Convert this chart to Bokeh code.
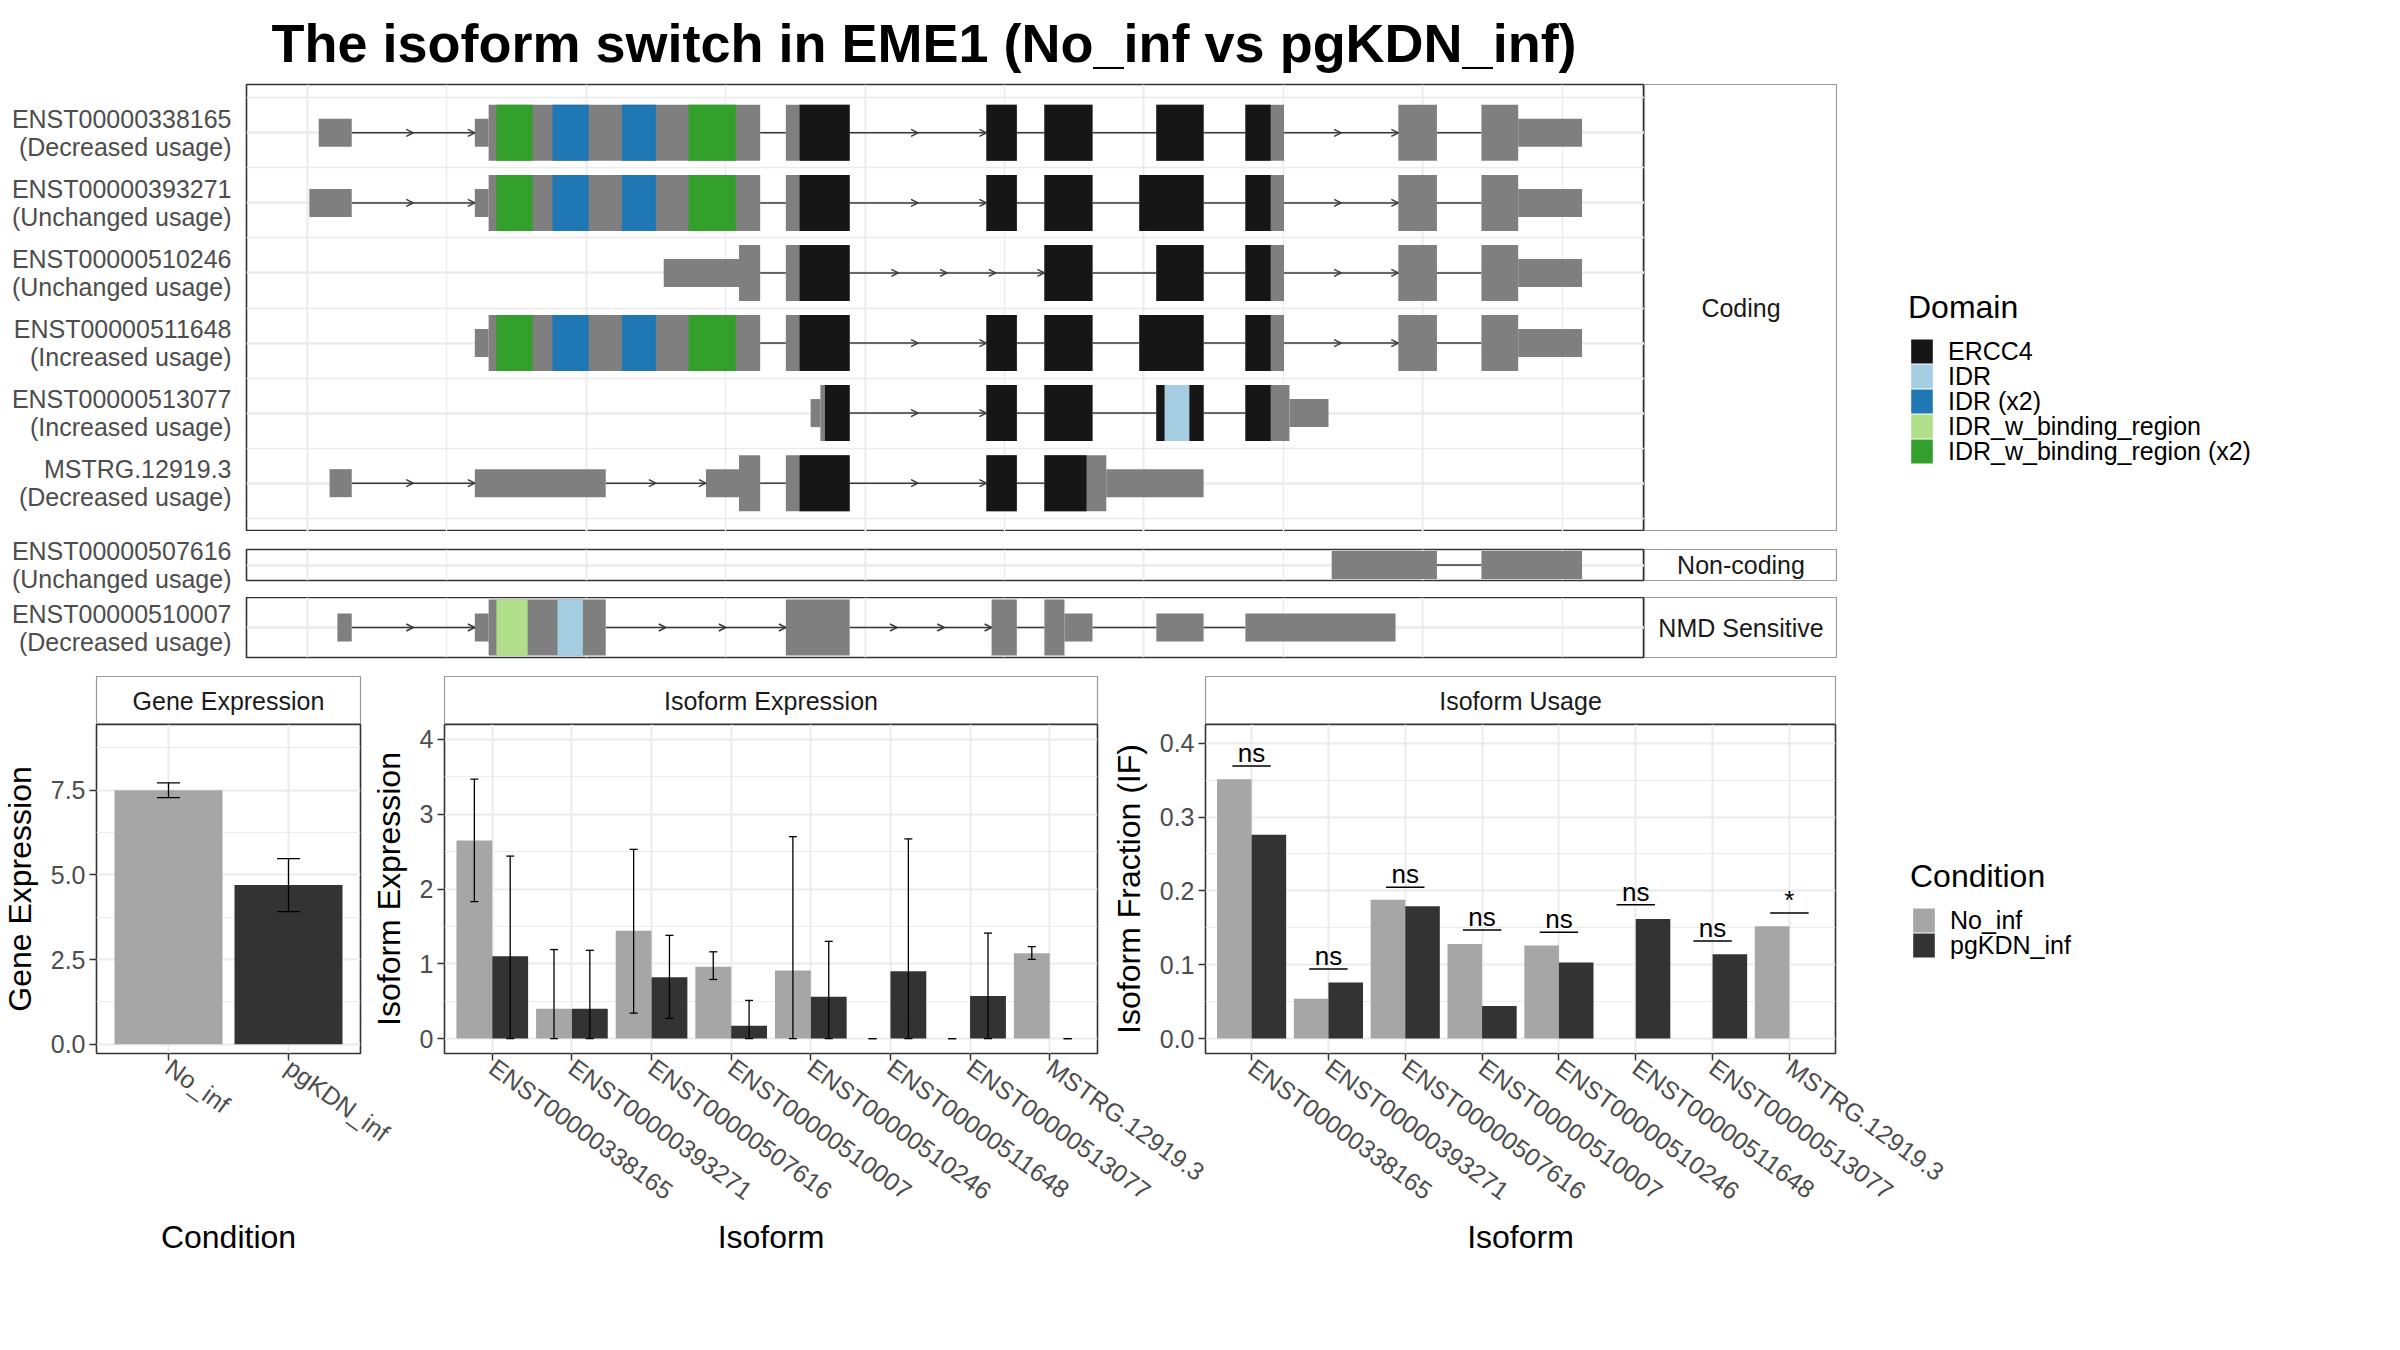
import math
from bokeh.plotting import figure
from bokeh.models import (Range1d, FixedTicker, ColumnDataSource, Arrow, OpenHead,
                          Legend, LegendItem, Spacer, PrintfTickFormatter, Whisker, TeeHead)
from bokeh.layouts import row, column
from bokeh.transform import dodge
from bokeh.embed import file_html
from bokeh.resources import INLINE
from bokeh.core.properties import value

FONT = "Liberation Sans"
GRID = "#EBEBEB"
BORDER = "#333333"
STRIP_BORDER = "#999999"
EXON_GRAY = "#7F7F7F"
INTRON = "#3A3A3A"
TICK_TXT = "#4D4D4D"

# ---------------------------------------------------------------- data
title_text = "The isoform switch in EME1 (No_inf vs pgKDN_inf)"

tx_ids = ["ENST00000338165", "ENST00000393271", "ENST00000510246", "ENST00000511648",
          "ENST00000513077", "MSTRG.12919.3", "ENST00000507616", "ENST00000510007"]
tx_usage = ["Decreased usage", "Unchanged usage", "Unchanged usage", "Increased usage",
            "Increased usage", "Decreased usage", "Unchanged usage", "Decreased usage"]
tx_class = ["Coding", "Coding", "Coding", "Coding", "Coding", "Coding",
            "Non-coding", "NMD Sensitive"]

# exon pieces (rescaled genomic coordinate); cds = 1 for coding part, 0 for UTR / non-coding
exon_tx = ([0] * 11 + [1] * 11 + [2] * 9 + [3] * 10 + [4] * 7 + [5] * 8 + [6] * 2 + [7] * 9)
exon_start = [8.0, 120.0, 129.9, 343.1, 487.0, 528.6, 608.9, 672.8, 782.5, 842.1, 868.5,
              1.3, 120.0, 129.9, 343.1, 487.0, 528.6, 596.7, 672.8, 782.5, 842.1, 868.5,
              255.5, 309.5, 343.1, 528.6, 608.9, 672.8, 782.5, 842.1, 868.5,
              120.0, 129.9, 343.1, 487.0, 528.6, 596.7, 672.8, 782.5, 842.1, 868.5,
              360.9, 367.9, 487.0, 528.6, 608.9, 672.8, 704.4,
              15.8, 120.0, 285.8, 309.5, 343.1, 487.0, 528.6, 573.0,
              734.7, 842.1,
              21.4, 120.0, 129.9, 343.1, 490.7, 528.6, 543.0, 608.9, 672.8]
exon_end = [31.7, 129.9, 324.7, 388.9, 508.8, 563.1, 642.8, 700.5, 810.2, 868.5, 914.3,
            31.7, 129.9, 324.7, 388.9, 508.8, 563.1, 642.8, 700.5, 810.2, 868.5, 914.3,
            309.5, 324.7, 388.9, 563.1, 642.8, 700.5, 810.2, 868.5, 914.3,
            129.9, 324.7, 388.9, 508.8, 563.1, 642.8, 700.5, 810.2, 868.5, 914.3,
            367.9, 388.9, 508.8, 563.1, 642.8, 704.4, 732.4,
            31.7, 213.9, 309.5, 324.7, 388.9, 508.8, 573.0, 642.8,
            810.2, 914.3,
            31.7, 129.9, 213.9, 388.9, 508.8, 543.0, 563.1, 642.8, 780.5]
exon_cds = [0, 0, 1, 1, 1, 1, 1, 1, 1, 1, 0,
            0, 0, 1, 1, 1, 1, 1, 1, 1, 1, 0,
            0, 1, 1, 1, 1, 1, 1, 1, 0,
            0, 1, 1, 1, 1, 1, 1, 1, 1, 0,
            0, 1, 1, 1, 1, 1, 0,
            0, 0, 0, 1, 1, 1, 1, 0,
            0, 0,
            0, 0, 1, 1, 1, 1, 0, 0, 0]

domain_names = ["ERCC4", "IDR", "IDR (x2)", "IDR_w_binding_region", "IDR_w_binding_region (x2)"]
domain_colors = ["#161616", "#A6CEE3", "#1F78B4", "#B2DF8A", "#33A02C"]

W2 = "IDR_w_binding_region (x2)"
I2 = "IDR (x2)"
dom_tx = [0, 0, 0, 0, 0, 1, 1, 1, 1, 1, 2, 3, 3, 3, 3, 3, 4, 4, 5, 7, 7]
dom_name = [W2, I2, I2, W2, "ERCC4", W2, I2, I2, W2, "ERCC4", "ERCC4",
            W2, I2, I2, W2, "ERCC4", "ERCC4", "IDR", "ERCC4",
            "IDR_w_binding_region", "IDR"]
dom_start = [135.5, 175.7, 225.5, 273.3, 353.0, 135.5, 175.7, 225.5, 273.3, 353.0, 353.0,
             135.5, 175.7, 225.5, 273.3, 353.0, 371.2, 614.8, 353.0, 135.5, 179.3]
dom_end = [161.5, 201.7, 249.9, 307.2, 690.9, 161.5, 201.7, 249.9, 307.2, 690.9, 690.9,
           161.5, 201.7, 249.9, 307.2, 690.9, 690.9, 632.6, 558.8, 157.9, 197.5]

conditions = ["No_inf", "pgKDN_inf"]
cond_colors = ["#A6A6A6", "#333333"]

gene_expr = [7.50, 4.70]
gene_lo = [7.28, 3.92]
gene_hi = [7.72, 5.48]

isoforms = ["ENST00000338165", "ENST00000393271", "ENST00000507616", "ENST00000510007",
            "ENST00000510246", "ENST00000511648", "ENST00000513077", "MSTRG.12919.3"]
iso_expr_no = [2.65, 0.40, 1.44, 0.96, 0.91, 0.00, 0.00, 1.14]
iso_expr_no_lo = [1.83, 0.00, 0.34, 0.79, 0.00, 0.00, 0.00, 1.06]
iso_expr_no_hi = [3.47, 1.19, 2.53, 1.16, 2.70, 0.00, 0.00, 1.23]
iso_expr_pg = [1.10, 0.40, 0.82, 0.17, 0.56, 0.90, 0.57, 0.00]
iso_expr_pg_lo = [0.00, 0.00, 0.27, 0.00, 0.00, 0.00, 0.00, 0.00]
iso_expr_pg_hi = [2.44, 1.18, 1.38, 0.51, 1.30, 2.67, 1.41, 0.00]

iso_if_no = [0.351, 0.054, 0.188, 0.128, 0.126, 0.000, 0.000, 0.152]
iso_if_pg = [0.276, 0.076, 0.179, 0.044, 0.103, 0.162, 0.114, 0.000]
sig_label = ["ns", "ns", "ns", "ns", "ns", "ns", "ns", "*"]
sig_y = [0.369, 0.094, 0.205, 0.147, 0.144, 0.181, 0.132, 0.170]

# ---------------------------------------------------------------- layout constants
TX_XR = (-43.8, 959.1)
TX_FRAME_W = 1398
TX_LEFT = 238
TOP_BORDER = 88
ROOT_TOP = -4          # page offset of the whole layout
KEY_W, KEY_H = 27, 30  # legend key boxes (drawn at 80 %)
KEY_PITCH = 25


def base_fig(**kw):
    opts = dict(output_backend="svg", toolbar_location=None, border_fill_color=None)
    opts.update(kw)
    return figure(**opts)


def transcript_panel(indices, y_bottom, y_top, frame_h, top_border, bottom_border=0, title=None):
    ypos = {t: k + 1 for k, t in enumerate(indices)}
    kw = {}
    if title:
        kw["title"] = title
    p = base_fig(frame_width=TX_FRAME_W, frame_height=frame_h,
                 x_range=Range1d(*TX_XR), y_range=Range1d(y_bottom, y_top),
                 x_axis_location=None, y_axis_location="left",
                 min_border_left=TX_LEFT, min_border_right=0,
                 min_border_top=top_border, min_border_bottom=bottom_border,
                 outline_line_color=BORDER, outline_line_width=1.6, **kw)
    p.xgrid.ticker = FixedTicker(ticks=[0, 200, 400, 600, 800], minor_ticks=[100, 300, 500, 700, 900])
    p.xgrid.grid_line_color = GRID
    p.xgrid.grid_line_width = 2
    p.xgrid.minor_grid_line_color = GRID
    p.xgrid.minor_grid_line_width = 1.3
    ys = [ypos[t] for t in indices]
    minor = [y - 0.5 for y in ys] + [ys[-1] + 0.5] if len(ys) > 1 else []
    p.ygrid.ticker = FixedTicker(ticks=ys, minor_ticks=minor)
    p.ygrid.grid_line_color = GRID
    p.ygrid.grid_line_width = 2.5
    p.ygrid.minor_grid_line_color = GRID
    p.ygrid.minor_grid_line_width = 1.5

    # introns (with direction chevrons on the longer ones)
    seg = {"x0": [], "x1": [], "y": []}
    arr = {"x0": [], "x1": [], "y": []}
    for t in indices:
        pieces = sorted((s, e) for tt, s, e in zip(exon_tx, exon_start, exon_end) if tt == t)
        for (s1, e1), (s2, e2) in zip(pieces, pieces[1:]):
            gap = s2 - e1
            if gap > 0.5:
                seg["x0"].append(e1); seg["x1"].append(s2); seg["y"].append(ypos[t])
                n = int(gap // 33)
                if n >= 2:
                    step = gap / n
                    for k in range(1, n + 1):
                        arr["x0"].append(e1 + (k - 1) * step)
                        arr["x1"].append(e1 + k * step)
                        arr["y"].append(ypos[t])
    p.segment(x0="x0", x1="x1", y0="y", y1="y", source=ColumnDataSource(seg),
              line_color=INTRON, line_width=1.5)
    if arr["x0"]:
        p.add_layout(Arrow(source=ColumnDataSource(arr), x_start="x0", x_end="x1",
                           y_start="y", y_end="y", line_color=None,
                           end=OpenHead(size=7, line_color=INTRON, line_width=1.4)))

    # exons
    ex = {"left": [], "right": [], "bottom": [], "top": []}
    for t, s, e, c in zip(exon_tx, exon_start, exon_end, exon_cds):
        if t in ypos:
            h = 0.4 if c else 0.2
            ex["left"].append(s); ex["right"].append(e)
            ex["bottom"].append(ypos[t] - h); ex["top"].append(ypos[t] + h)
    p.quad(left="left", right="right", bottom="bottom", top="top",
           source=ColumnDataSource(ex), fill_color=EXON_GRAY, line_color=None)

    # protein domains on coding parts
    for name, col in zip(domain_names, domain_colors):
        d = {"left": [], "right": [], "bottom": [], "top": []}
        for t, dn, ds, de in zip(dom_tx, dom_name, dom_start, dom_end):
            if dn != name or t not in ypos:
                continue
            for tt, s, e, c in zip(exon_tx, exon_start, exon_end, exon_cds):
                if tt == t and c == 1:
                    lft, rgt = max(s, ds), min(e, de)
                    if rgt > lft:
                        d["left"].append(lft); d["right"].append(rgt)
                        d["bottom"].append(ypos[t] - 0.4); d["top"].append(ypos[t] + 0.4)
        if d["left"]:
            p.quad(left="left", right="right", bottom="bottom", top="top",
                   source=ColumnDataSource(d), fill_color=col, line_color=None)

    ax = p.yaxis[0]
    ax.ticker = FixedTicker(ticks=ys)
    ax.major_label_overrides = {ypos[t]: f"{tx_ids[t]}\n({tx_usage[t]})" for t in indices}
    ax.axis_line_color = None
    ax.major_tick_line_color = None
    ax.minor_tick_line_color = None
    ax.major_label_standoff = 9
    ax.major_label_text_font = FONT
    ax.major_label_text_font_size = "25px"
    ax.major_label_text_color = TICK_TXT
    ax.major_label_text_line_height = 1.0
    return p


def strip_fig(label, frame_w, frame_h, lb=0, rb=0, top=0, bottom=0):
    p = base_fig(frame_width=frame_w, frame_height=frame_h,
                 x_range=Range1d(0, 1), y_range=Range1d(0, 1),
                 x_axis_type=None, y_axis_type=None,
                 min_border_left=lb, min_border_right=rb, min_border_top=top, min_border_bottom=bottom,
                 outline_line_color=STRIP_BORDER, outline_line_width=1.2)
    p.text(x=[0.5], y=[0.5], text=[label], text_align="center", text_baseline="middle",
           text_font=value(FONT), text_font_size="25px", text_color="#1A1A1A")
    return p


def legend_fig(title, names, colors, width, height, key_x, first_center):
    """One single-entry Legend per key so that the key pitch follows the reference."""
    p = base_fig(width=width, height=height, x_range=Range1d(0, 1), y_range=Range1d(0, 1),
                 x_axis_type=None, y_axis_type=None,
                 min_border_left=0, min_border_right=0, min_border_top=0, min_border_bottom=0,
                 outline_line_color=None, background_fill_color=None)
    for k, (n, c) in enumerate(zip(names, colors)):
        # zero-size key glyph: only its legend swatch is visible
        r = p.quad(left=[0], right=[0], top=[0], bottom=[0], fill_color=c, line_color=None)
        center = first_center + k * KEY_PITCH
        vy = height - (center + KEY_H / 2)
        leg = Legend(items=[LegendItem(label=n, renderers=[r])],
                     title=title if k == 0 else None, location=(key_x, vy),
                     title_text_font=FONT, title_text_font_size="32px",
                     title_text_font_style="normal", title_text_color="black", title_standoff=10,
                     label_text_font=FONT, label_text_font_size="25px", label_text_color="black",
                     label_standoff=13, glyph_width=KEY_W, glyph_height=KEY_H, label_height=20,
                     spacing=0, padding=0, margin=0, border_line_color=None,
                     background_fill_alpha=0)
        p.add_layout(leg, "center")
    return p


def bar_panel(cats, frame_w, lb, rb, yr, yticks, yminor, fmt, xlab, ylab, xl_std, yl_std):
    n = len(cats)
    p = base_fig(frame_width=frame_w, frame_height=329,
                 x_range=Range1d(0.4, n + 0.6), y_range=Range1d(*yr),
                 min_border_left=lb, min_border_right=rb, min_border_top=0, min_border_bottom=230,
                 outline_line_color=BORDER, outline_line_width=1.6,
                 x_axis_label=xlab, y_axis_label=ylab)
    xa = p.xaxis[0]
    ya = p.yaxis[0]
    xa.ticker = FixedTicker(ticks=list(range(1, n + 1)))
    xa.major_label_overrides = {i + 1: c for i, c in enumerate(cats)}
    xa.major_label_orientation = -math.radians(36)
    ya.ticker = FixedTicker(ticks=yticks, minor_ticks=yminor)
    ya.formatter = PrintfTickFormatter(format=fmt)
    for a in (xa, ya):
        a.axis_line_color = None
        a.major_tick_line_color = BORDER
        a.major_tick_line_width = 1.5
        a.major_tick_out = 7
        a.major_tick_in = 0
        a.minor_tick_line_color = None
        a.major_label_text_font = FONT
        a.major_label_text_font_size = "25px"
        a.major_label_text_color = TICK_TXT
        a.major_label_standoff = 4
        a.axis_label_text_font = FONT
        a.axis_label_text_font_size = "32px"
        a.axis_label_text_font_style = "normal"
        a.axis_label_text_color = "black"
    xa.axis_label_standoff = xl_std
    ya.axis_label_standoff = yl_std
    p.xgrid.grid_line_color = GRID
    p.xgrid.grid_line_width = 2
    p.ygrid.grid_line_color = GRID
    p.ygrid.grid_line_width = 2
    p.ygrid.minor_grid_line_color = GRID
    p.ygrid.minor_grid_line_width = 1.2
    return p


def add_whisker(p, src, base, lo, hi, size):
    p.add_layout(Whisker(source=src, base=base, lower=lo, upper=hi, dimension="height",
                         line_color="black", line_width=1.3, level="annotation",
                         upper_head=TeeHead(size=size, line_color="black", line_width=1.3),
                         lower_head=TeeHead(size=size, line_color="black", line_width=1.3)))


# ---------------------------------------------------------------- transcript panels
coding_idx = [i for i, c in enumerate(tx_class) if c == "Coding"]
nc_idx = [i for i, c in enumerate(tx_class) if c == "Non-coding"]
nmd_idx = [i for i, c in enumerate(tx_class) if c == "NMD Sensitive"]

coding = transcript_panel(coding_idx, 6.69, 0.31, 447, TOP_BORDER, title=title_text)
coding.title.align = "left"
coding.title.offset = 25
coding.title.text_font = FONT
coding.title.text_font_size = "54px"
coding.title.text_font_style = "bold"
coding.title.text_color = "black"
coding.title.standoff = 24

nc = transcript_panel(nc_idx, 1.22, 0.78, 31, 17, 17)
nmd = transcript_panel(nmd_idx, 1.43, 0.57, 60, 0, 19)

strip_coding = strip_fig("Coding", 193, 447, top=TOP_BORDER)
strip_nc = strip_fig("Non-coding", 193, 31, top=17, bottom=17)
strip_nmd = strip_fig("NMD Sensitive", 193, 60, top=0, bottom=19)

coding_h = TOP_BORDER + 447
domain_leg = legend_fig("Domain", domain_names, domain_colors, 540, coding_h, 71, 351 - ROOT_TOP)

# ---------------------------------------------------------------- bottom panels
# Gene expression
g = bar_panel(conditions, 264, 100, 40, (-0.27, 9.44), [0, 2.5, 5, 7.5], [1.25, 3.75, 6.25, 8.75],
              "%.1f", "Condition", "Gene Expression", 58, 10)
gsrc = ColumnDataSource(dict(x=[1, 2], y=gene_expr, lo=gene_lo, hi=gene_hi, color=cond_colors))
g.vbar(x="x", top="y", width=0.9, source=gsrc, fill_color="color", line_color=None)
add_whisker(g, gsrc, "x", "lo", "hi", 23)
g_strip = strip_fig("Gene Expression", 264, 48, lb=100, rb=40)

# Isoform expression
ie = bar_panel(isoforms, 653, 84, 120, (-0.2, 4.2), [0, 1, 2, 3, 4], [0.5, 1.5, 2.5, 3.5],
               "%d", "Isoform", "Isoform Expression", 0, 10)
iesrc = ColumnDataSource(dict(x=list(range(1, len(isoforms) + 1)),
                              no=iso_expr_no, no_lo=iso_expr_no_lo, no_hi=iso_expr_no_hi,
                              pg=iso_expr_pg, pg_lo=iso_expr_pg_lo, pg_hi=iso_expr_pg_hi))
ie.vbar(x=dodge("x", -0.225), top="no", width=0.45, source=iesrc,
        fill_color=cond_colors[0], line_color=None)
ie.vbar(x=dodge("x", 0.225), top="pg", width=0.45, source=iesrc,
        fill_color=cond_colors[1], line_color=None)
add_whisker(ie, iesrc, dodge("x", -0.225), "no_lo", "no_hi", 8)
add_whisker(ie, iesrc, dodge("x", 0.225), "pg_lo", "pg_hi", 8)
ie_strip = strip_fig("Isoform Expression", 653, 48, lb=84, rb=120)

# Isoform usage
iu = bar_panel(isoforms, 630, 108, 120, (-0.0203, 0.4253), [0, 0.1, 0.2, 0.3, 0.4],
               [0.05, 0.15, 0.25, 0.35], "%.1f", "Isoform", "Isoform Fraction (IF)", 0, 10)
iusrc = ColumnDataSource(dict(x=list(range(1, len(isoforms) + 1)), no=iso_if_no, pg=iso_if_pg,
                              sig=sig_label, sig_y=sig_y))
iu.vbar(x=dodge("x", -0.225), top="no", width=0.45, source=iusrc,
        fill_color=cond_colors[0], line_color=None)
iu.vbar(x=dodge("x", 0.225), top="pg", width=0.45, source=iusrc,
        fill_color=cond_colors[1], line_color=None)
iu.segment(x0=dodge("x", -0.25), x1=dodge("x", 0.25), y0="sig_y", y1="sig_y", source=iusrc,
           line_color="black", line_width=1.5)
iu.text(x="x", y="sig_y", text="sig", source=iusrc, text_align="center", text_baseline="bottom",
        y_offset=2, text_font=value(FONT), text_font_size="26px", text_color="black")
iu_strip = strip_fig("Isoform Usage", 630, 48, lb=108, rb=120)

bottom_top = ROOT_TOP + coding_h + 1 + 65 + 79
cond_leg = legend_fig("Condition", conditions, cond_colors, 500, 607, 75, 920 - bottom_top)

col1 = column(g_strip, g, margin=(0, 0, 0, -12))
col2 = column(ie_strip, ie, margin=(0, 0, 0, -40))
col3 = column(iu_strip, iu, margin=(0, 0, 0, -120))
cond_leg.margin = (0, 0, 0, -120)

layout = column(
    row(coding, strip_coding, column(domain_leg)),
    Spacer(height=1),
    row(nc, strip_nc),
    row(nmd, strip_nmd),
    row(col1, col2, col3, cond_leg),
    margin=(ROOT_TOP, 0, 0, 8),
)

open("out.html", "w").write(file_html(layout, INLINE, title="EME1 isoform switch"))
